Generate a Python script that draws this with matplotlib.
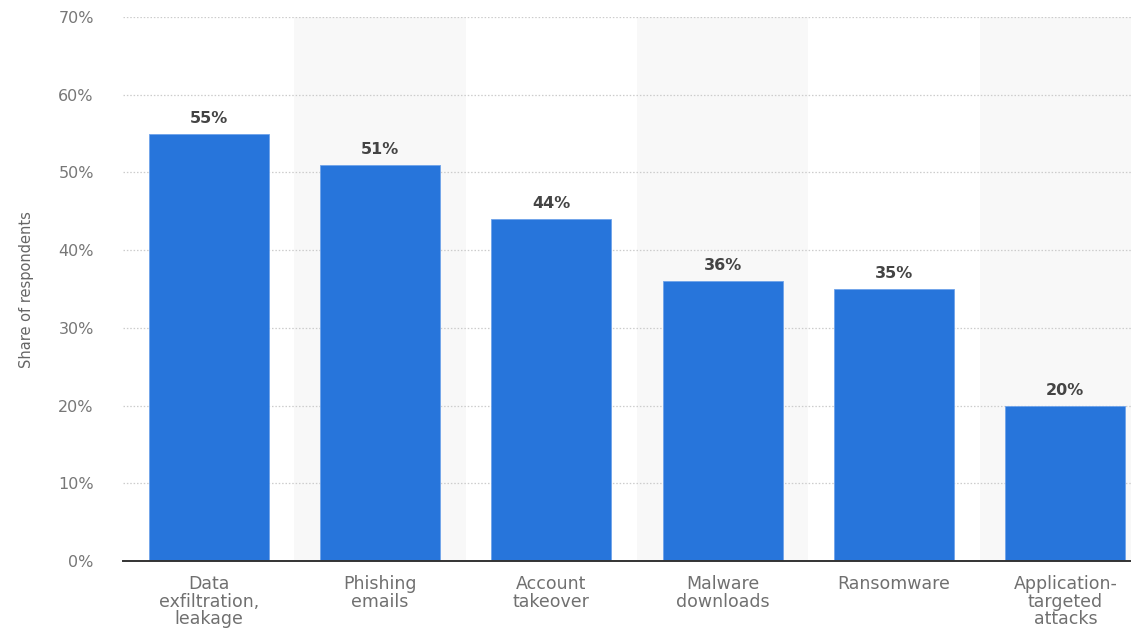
import numpy as np
import matplotlib.pyplot as plt

categories = ["Data\nexfiltration,\nleakage", "Phishing\nemails", "Account\ntakeover",
              "Malware\ndownloads", "Ransomware", "Application-\ntargeted\nattacks"]
shares = [55, 51, 44, 36, 35, 20]
yticks = [0, 10, 20, 30, 40, 50, 60, 70]

plt.rcParams['font.family'] = ['DejaVu Sans']

fig = plt.figure(figsize=(11.31, 6.3), dpi=100)
W, H = 1131, 630
# axes runs past the right edge, last column gets cut off
ax = fig.add_axes([123 / W, 69 / H, 1028 / W, 544 / H])

x = np.arange(len(categories))

# alternating column shading
for i in x:
    if i % 2 == 1:
        ax.axvspan(i - 0.5, i + 0.5, color='#f8f8f8', zorder=0, lw=0)

for t in yticks[1:]:
    ax.axhline(t, color='#cccccc', lw=0.9, ls=(0, (1.2, 1.5)), zorder=1)

bars = ax.bar(x, shares, width=0.7, color='#2775db', edgecolor='#6fa3ea',
              linewidth=0.6, zorder=2)

for xi, v in zip(x, shares):
    ax.text(xi, v + 1.0, f"{v}%", ha='center', va='bottom', fontsize=11.5,
            fontweight='bold', color='#444444')

ax.set_xlim(-0.5, 5.5)
ax.set_ylim(0, 70)
ax.set_yticks(yticks)
ax.set_yticklabels([f"{t}%" for t in yticks])
ax.set_xticks(x)
ax.set_xticklabels(categories, linespacing=0.98)

ax.tick_params(axis='y', length=0, pad=21, labelsize=11.5, labelcolor='#777777')
ax.tick_params(axis='x', length=0, pad=10, labelsize=12.5, labelcolor='#707070')

for s in ['top', 'right', 'left']:
    ax.spines[s].set_visible(False)
ax.spines['bottom'].set_color('#333333')
ax.spines['bottom'].set_linewidth(1.4)
ax.spines['bottom'].set_zorder(3)

fig.text(27 / W, 1 - 290 / H, "Share of respondents", rotation=90, ha='center', va='center',
         fontsize=10.5, color='#666666', family=['Liberation Sans Narrow', 'DejaVu Sans'])

fig.savefig("out.png", dpi=100)
